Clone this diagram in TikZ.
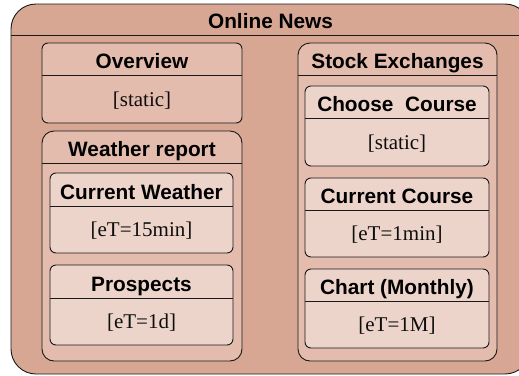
\documentclass[tikz,border=0pt]{standalone}
\usepackage{fontspec}
\setmainfont{Liberation Serif}
\newfontfamily\hdfont{Liberation Sans}
\definecolor{outerfill}{RGB}{216,167,148}
\definecolor{midfill}{RGB}{227,188,173}
\definecolor{innerfill}{RGB}{237,212,202}
\tikzset{
  boxshape/.style={draw=black!90, line width=0.9pt, rectangle, inner sep=0pt, outer sep=0pt},
  hd/.style={font=\hdfont\bfseries\fontsize{20.8}{24}\selectfont, anchor=base, inner sep=0pt, text=black},
  ct/.style={font=\fontsize{21}{24}\selectfont, anchor=base, inner sep=0pt, text=black!95},
  sepline/.style={draw=black!90, line width=0.9pt},
  container/.style={fill=midfill, rounded corners=12pt},
  leafmid/.style={fill=midfill, rounded corners=6pt},
  leaf/.style={fill=innerfill, rounded corners=6pt},
}
% name, x1, y1, x2, y2, separator y, title, style, content
\newcommand\umlbox[9]{%
  \node[boxshape,#8,minimum width={(#4-#2)*1pt},minimum height={(#5-#3)*1pt}] (#1) at ({(#2+#4)/2},{(#3+#5)/2}) {};
  \draw[sepline] (#1.west |- 0,#6) -- (#1.east |- 0,#6);
  \node[hd] (#1-t) at ({(#2+#4)/2},{#6-6.5}) {#7};
  \if\relax\detokenize{#9}\relax\else
    \node[ct] (#1-c) at ({(#2+#4)/2},{(#6+#5)/2+7}) {#9};
  \fi
}
\begin{document}
\begin{tikzpicture}[x=1pt,y=-1pt]
  \useasboundingbox (0,0) rectangle (519,375);
  \clip (0,0) rectangle (519,375);
  \umlbox{news}{11}{4}{530}{374}{35}{Online News}{fill=outerfill,rounded corners=25pt}{}
  \umlbox{ov}{42}{43}{242}{123}{75}{Overview}{leafmid}{[static]}
  \umlbox{wr}{42}{131}{242}{361}{163}{Weather report}{container}{}
  \umlbox{cw}{50}{173}{233}{253}{206}{Current Weather}{leaf}{[eT=15min]}
  \umlbox{pr}{50}{265}{233}{345}{298}{Prospects}{leaf}{[eT=1d]}
  \umlbox{se}{298}{43}{497}{361}{75}{Stock Exchanges}{container}{}
  \umlbox{cc}{305}{86}{489}{166}{118}{Choose\ \ Course}{leaf}{[static]}
  \umlbox{cu}{305}{178}{489}{257}{210}{Current Course}{leaf}{[eT=1min]}
  \umlbox{ch}{305}{269}{489}{348}{301}{Chart (Monthly)}{leaf}{[eT=1M]}
\end{tikzpicture}
\end{document}
